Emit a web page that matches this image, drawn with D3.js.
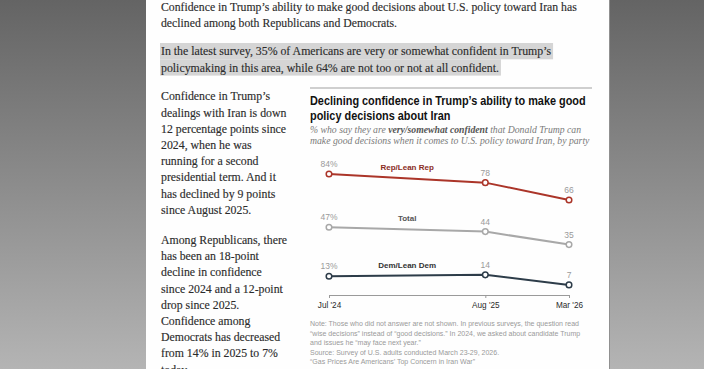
<!DOCTYPE html>
<html><head><meta charset="utf-8">
<script src="https://cdn.jsdelivr.net/npm/d3@7"></script>
<style>html,body{margin:0;padding:0;overflow:hidden;background:#fff}svg{display:block}</style>
</head><body>
<svg id="c" width="704" height="369"></svg>
<script>
// ---------- data ----------
const surveyDates = ["2024-07-01", "2025-08-01", "2026-03-01"];
const tickLabels = ["Jul '24", "Aug '25", "Mar '26"];
const repValues = [84, 78, 66];
const totalValues = [47, 44, 35];
const demValues = [13, 14, 7];
const seriesNames = ["Rep/Lean Rep", "Total", "Dem/Lean Dem"];

const para1 = ["Confidence in Trump’s ability to make good decisions about U.S. policy toward Iran has",
  "declined among both Republicans and Democrats."];
const para2 = ["In the latest survey, 35% of Americans are very or somewhat confident in Trump’s",
  "policymaking in this area, while 64% are not too or not at all confident."];
const col1 = ["Confidence in Trump’s", "dealings with Iran is down", "12 percentage points since",
  "2024, when he was", "running for a second", "presidential term. And it",
  "has declined by 9 points", "since August 2025."];
const col2 = ["Among Republicans, there", "has been an 18-point", "decline in confidence",
  "since 2024 and a 12-point", "drop since 2025.", "Confidence among",
  "Democrats has decreased", "from 14% in 2025 to 7%", "today."];
const titleLines = ["Declining confidence in Trump’s ability to make good", "policy decisions about Iran"];
const subtitleLines = [
  [["% who say they are ", 0], ["very/somewhat confident", 1], [" that Donald Trump can", 0]],
  [["make good decisions when it comes to U.S. policy toward Iran, by party", 0]]
];
const noteLines = ["Note: Those who did not answer are not shown. In previous surveys, the question read",
  "“wise decisions” instead of “good decisions.” In 2024, we asked about candidate Trump",
  "and issues he “may face next year.”",
  "Source: Survey of U.S. adults conducted March 23-29, 2026.",
  "“Gas Prices Are Americans’ Top Concern in Iran War”"];

// ---------- drawing ----------
const W = 704, H = 369;
const svg = d3.select("#c");
const defs = svg.append("defs");
const grad = defs.append("linearGradient").attr("id", "bg")
  .attr("x1", 0).attr("y1", 0).attr("x2", 0).attr("y2", 1);
grad.append("stop").attr("offset", "0%").attr("stop-color", "#646464");
grad.append("stop").attr("offset", "100%").attr("stop-color", "#b4b4b4");
svg.append("rect").attr("width", W).attr("height", H).attr("fill", "url(#bg)");
svg.append("rect").attr("x", 146).attr("y", 0).attr("width", 463).attr("height", H).attr("fill", "#fefefe");
svg.append("line").attr("x1", 609.5).attr("x2", 609.5).attr("y1", 0).attr("y2", H)
  .attr("stroke", "#909090").attr("stroke-width", 1);

const SERIF = "'Liberation Serif', 'DejaVu Serif', serif";
const SANS = "'Liberation Sans', Arial, sans-serif";

function block(lines, o) {
  const g = svg.append("g");
  const inner = g.append("g");
  const texts = inner.selectAll("text").data(lines).join("text")
    .attr("x", 0).attr("y", (d, i) => o.y0 + i * o.step)
    .attr("font-family", o.font).attr("font-size", o.size)
    .attr("font-weight", o.weight || "normal").attr("font-style", o.style || "normal")
    .attr("fill", o.color);
  if (o.stroke) texts.attr("stroke", o.color).attr("stroke-width", o.stroke);
  if (o.segments) {
    texts.selectAll("tspan").data(d => d).join("tspan")
      .text(d => d[0])
      .attr("font-weight", d => d[1] ? "bold" : "normal")
      .attr("fill", d => d[1] ? o.boldColor : o.color);
  } else {
    texts.text(d => d);
  }
  const w = texts.nodes()[o.fitIndex || 0].getComputedTextLength();
  const k = o.fitWidth ? o.fitWidth / w : 1;
  inner.attr("transform", `translate(${o.x},0) scale(${k},1)`);
  return {g, inner, texts, k};
}

const bodyOpts = {font: SERIF, size: 12.7, color: "#2b2b2b", stroke: 0.15};
// paragraph 1
block(para1, {...bodyOpts, x: 161, y0: 10.5, step: 16.3, fitWidth: 416});
// paragraph 2 with highlight
const p2 = block(para2, {...bodyOpts, x: 161, y0: 55.5, step: 16.3, fitWidth: 390});
p2.texts.each(function(d, i) {
  const w = this.getComputedTextLength() * p2.k;
  svg.insert("rect", "g").attr("x", 160).attr("y", 43 + i * 16.3).attr("width", w + 3)
    .attr("height", 16.3).attr("fill", "#d5d5d5");
});
// left column
block(col1, {...bodyOpts, x: 161, y0: 100.5, step: 16.2, fitWidth: 109});
block(col2, {...bodyOpts, x: 161, y0: 244, step: 16.2, fitWidth: 126});

// chart header
svg.append("line").attr("x1", 310).attr("x2", 592).attr("y1", 88).attr("y2", 88)
  .attr("stroke", "#cfcfcf").attr("stroke-width", 2);
block(titleLines, {x: 310, y0: 105.5, step: 14.5, font: SANS, size: 12, weight: "bold", color: "#111", fitWidth: 276});
block(subtitleLines, {x: 310, y0: 133, step: 11.5, font: SERIF, size: 9.4, style: "italic", color: "#7a7a7a",
  boldColor: "#555", segments: true, fitWidth: 271});

// scales
const parse = d3.timeParse("%Y-%m-%d");
const dateObjs = surveyDates.map(parse);
const x = d3.scaleTime().domain([dateObjs[0], dateObjs[dateObjs.length - 1]]).range([329, 569]);
const y = d3.scaleLinear().domain([0, 84]).range([295, 174]);

// axis
const axis = svg.append("g").attr("transform", `translate(0,${y(0)})`)
  .call(d3.axisBottom(x).tickValues(dateObjs).tickFormat((d, i) => tickLabels[i])
    .tickSizeInner(3).tickSizeOuter(0).tickPadding(4));
axis.select(".domain").attr("stroke", "#9a9a9a");
axis.selectAll(".tick line").attr("stroke", "#9a9a9a");
axis.selectAll(".tick text").attr("font-family", SANS).attr("font-size", 8.2).attr("fill", "#2a2a2a");

// series
const series = [
  {name: seriesNames[0], values: repValues, color: "#ab3529", label: "#8a2d25"},
  {name: seriesNames[1], values: totalValues, color: "#a8a8a8", label: "#555"},
  {name: seriesNames[2], values: demValues, color: "#2d3c49", label: "#333"}
];
const line = d3.line().x(d => x(d.date)).y(d => y(d.v));
series.forEach(s => {
  const pts = s.values.map((v, i) => ({date: dateObjs[i], v}));
  svg.append("path").datum(pts).attr("d", line).attr("fill", "none")
    .attr("stroke", s.color).attr("stroke-width", 2);
  svg.selectAll(null).data(pts).join("circle")
    .attr("cx", d => x(d.date)).attr("cy", d => y(d.v)).attr("r", 2.8)
    .attr("fill", "#fff").attr("stroke", s.color).attr("stroke-width", 1.5);
  svg.selectAll(null).data(pts).join("text")
    .attr("x", d => x(d.date)).attr("y", d => y(d.v) - 7)
    .attr("text-anchor", "middle").attr("font-family", SANS).attr("font-size", 8.5)
    .attr("fill", "#9a9a9a").text((d, i) => i === 0 ? d.v + "%" : d.v);
  const mx = (x(pts[0].date) + x(pts[1].date)) / 2;
  const my = (y(pts[0].v) + y(pts[1].v)) / 2;
  svg.append("text").attr("x", mx).attr("y", my - 8).attr("text-anchor", "middle")
    .attr("font-family", SANS).attr("font-size", 8).attr("font-weight", "bold")
    .attr("fill", s.label).text(s.name);
});

// notes
block(noteLines, {x: 310, y0: 326.5, step: 9.5, font: SANS, size: 6.8, color: "#9a9a9a", fitWidth: 269});
</script>
</body></html>
